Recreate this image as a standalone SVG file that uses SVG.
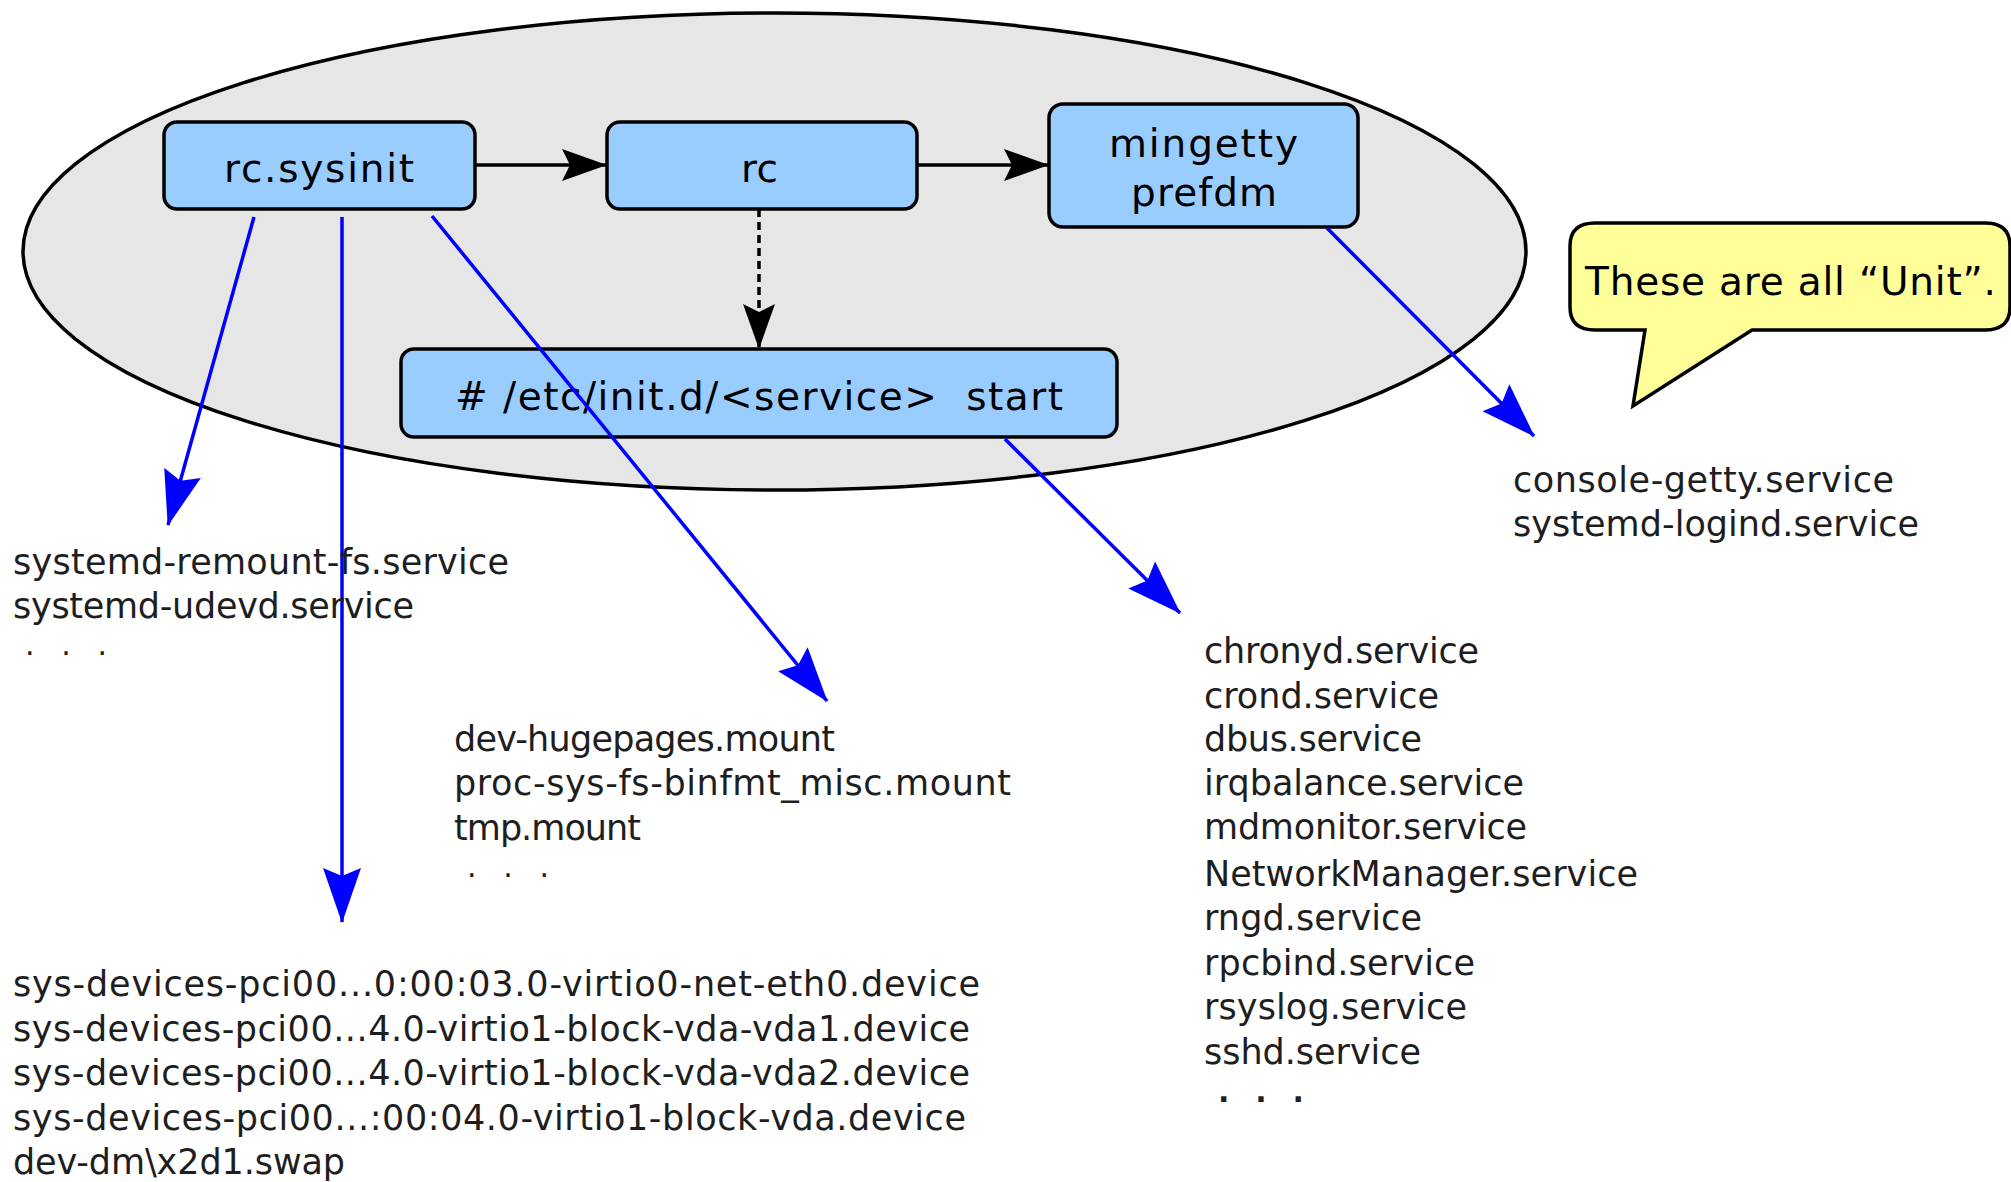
<svg xmlns="http://www.w3.org/2000/svg" width="2011" height="1182" viewBox="0 0 2011 1182">
<style>
.node rect{fill:#99ccff;stroke:#000;stroke-width:3.5}
.lbl{font-family:"DejaVu Sans","Liberation Sans",sans-serif;font-size:39px;fill:#000;white-space:pre}
.lst{font-family:"DejaVu Sans","Liberation Sans",sans-serif;font-size:35px;fill:#1e1e1e;white-space:pre}
.dots{font-family:"DejaVu Sans","Liberation Sans",sans-serif;font-size:30px;fill:#1e1e1e;white-space:pre}
.blk{stroke:#000;stroke-width:3.5;fill:none}
.blue{stroke:#0000ff;stroke-width:3.5;fill:none;marker-end:url(#bh)}
</style>
<defs>
<marker id="kh" viewBox="0 0 45 32" refX="44" refY="16" markerWidth="45" markerHeight="32" markerUnits="userSpaceOnUse" orient="auto">
<path d="M45,16 L0,0 L8,16 L0,32 Z" fill="#000"/>
</marker>
<marker id="bh" viewBox="0 0 55 38" refX="54" refY="19" markerWidth="55" markerHeight="38" markerUnits="userSpaceOnUse" orient="auto">
<path d="M55,19 L0,0 L8,19 L0,38 Z" fill="#0000ff"/>
</marker>
</defs>
<rect width="2011" height="1182" fill="#fff"/>
<g id="group-ellipse">
<ellipse cx="774.5" cy="251.5" rx="751.5" ry="238.5" fill="#e6e6e6" stroke="#000" stroke-width="3.5"/>
</g>
<g id="bubble">
<path d="M1595,223 H1985 Q2010,223 2010,246 V307 Q2010,330 1985,330 H1752 L1633,406 L1645,330 H1595 Q1570,330 1570,307 V246 Q1570,223 1595,223 Z" fill="#ffff99" stroke="#000" stroke-width="3.5"/>
<text class="lbl" x="1585" y="295" textLength="411" lengthAdjust="spacing">These are all “Unit”.</text>
</g>
<g id="connectors">
<line class="blk" x1="475" y1="165" x2="606" y2="165" marker-end="url(#kh)"/>
<line class="blk" x1="917" y1="165" x2="1048" y2="165" marker-end="url(#kh)"/>
<line class="blk" x1="759" y1="209" x2="759" y2="348" stroke-dasharray="8,5" marker-end="url(#kh)"/>
</g>
<g id="n-rcsysinit" class="node">
<rect x="164" y="122" width="311" height="87" rx="13"/>
<text class="lbl" x="224" y="182" textLength="190" lengthAdjust="spacing">rc.sysinit</text>
</g>
<g id="n-rc" class="node">
<rect x="607" y="122" width="310" height="87" rx="13"/>
<text class="lbl" x="741" y="182" textLength="37" lengthAdjust="spacing">rc</text>
</g>
<g id="n-mingetty" class="node">
<rect x="1049" y="104" width="309" height="123" rx="14"/>
<text class="lbl" x="1109" y="157" textLength="189" lengthAdjust="spacing">mingetty</text>
<text class="lbl" x="1131" y="206" textLength="146" lengthAdjust="spacing">prefdm</text>
</g>
<g id="n-initd" class="node">
<rect x="401" y="349" width="716" height="88" rx="13"/>
<text class="lbl" x="455" y="410" textLength="608" lengthAdjust="spacing"># /etc/init.d/&lt;service&gt;  start</text>
</g>
<g id="blue-connectors">
<line class="blue" x1="254" y1="217" x2="168" y2="525"/>
<line class="blue" x1="342" y1="217" x2="342" y2="922"/>
<line class="blue" x1="432" y1="216" x2="827" y2="701"/>
<line class="blue" x1="1327" y1="228" x2="1534" y2="436"/>
<line class="blue" x1="1005" y1="439" x2="1180" y2="613"/>
</g>
<g id="list-sysinit">
<text class="lst" x="13" y="574" textLength="496" lengthAdjust="spacing">systemd-remount-fs.service</text>
<text class="lst" x="13" y="618" textLength="401" lengthAdjust="spacing">systemd-udevd.service</text>
<text class="dots" x="25" y="655" textLength="82" lengthAdjust="spacing">. . .</text>
</g>
<g id="list-mount">
<text class="lst" x="454" y="751" textLength="381" lengthAdjust="spacing">dev-hugepages.mount</text>
<text class="lst" x="454" y="795" textLength="557" lengthAdjust="spacing">proc-sys-fs-binfmt_misc.mount</text>
<text class="lst" x="454" y="840" textLength="187" lengthAdjust="spacing">tmp.mount</text>
<text class="dots" x="467" y="877" textLength="82" lengthAdjust="spacing">. . .</text>
</g>
<g id="list-device">
<text class="lst" x="13" y="996" textLength="967" lengthAdjust="spacing">sys-devices-pci00...0:00:03.0-virtio0-net-eth0.device</text>
<text class="lst" x="13" y="1041" textLength="957" lengthAdjust="spacing">sys-devices-pci00...4.0-virtio1-block-vda-vda1.device</text>
<text class="lst" x="13" y="1085" textLength="957" lengthAdjust="spacing">sys-devices-pci00...4.0-virtio1-block-vda-vda2.device</text>
<text class="lst" x="13" y="1130" textLength="953" lengthAdjust="spacing">sys-devices-pci00...:00:04.0-virtio1-block-vda.device</text>
<text class="lst" x="13" y="1174" textLength="332" lengthAdjust="spacing">dev-dm\x2d1.swap</text>
</g>
<g id="list-service">
<text class="lst" x="1204" y="663" textLength="275" lengthAdjust="spacing">chronyd.service</text>
<text class="lst" x="1204" y="708" textLength="235" lengthAdjust="spacing">crond.service</text>
<text class="lst" x="1204" y="751" textLength="218" lengthAdjust="spacing">dbus.service</text>
<text class="lst" x="1204" y="795" textLength="320" lengthAdjust="spacing">irqbalance.service</text>
<text class="lst" x="1204" y="839" textLength="323" lengthAdjust="spacing">mdmonitor.service</text>
<text class="lst" x="1204" y="886" textLength="434" lengthAdjust="spacing">NetworkManager.service</text>
<text class="lst" x="1204" y="930" textLength="218" lengthAdjust="spacing">rngd.service</text>
<text class="lst" x="1204" y="975" textLength="271" lengthAdjust="spacing">rpcbind.service</text>
<text class="lst" x="1204" y="1019" textLength="263" lengthAdjust="spacing">rsyslog.service</text>
<text class="lst" x="1204" y="1064" textLength="217" lengthAdjust="spacing">sshd.service</text>
<text class="dots" x="1218" y="1102" textLength="86" lengthAdjust="spacing" font-weight="bold">. . .</text>
</g>
<g id="list-getty">
<text class="lst" x="1513" y="492" textLength="381" lengthAdjust="spacing">console-getty.service</text>
<text class="lst" x="1513" y="536" textLength="406" lengthAdjust="spacing">systemd-logind.service</text>
</g>
</svg>
